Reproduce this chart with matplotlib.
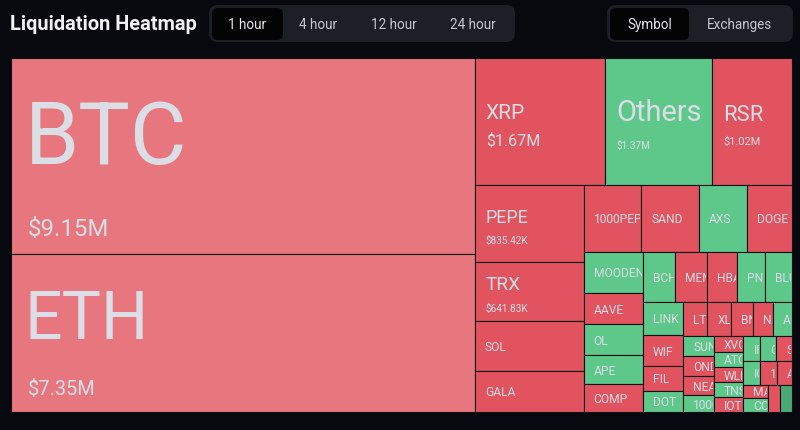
import matplotlib.pyplot as plt
from matplotlib.patches import Rectangle, FancyBboxPatch
from matplotlib.transforms import Bbox, TransformedBbox

plt.rcParams['font.family'] = ['Roboto', 'DejaVu Sans']

# liquidation totals per symbol, in $M
names = ["BTC", "ETH", "XRP", "Others", "RSR", "PEPE", "TRX", "SOL", "GALA",
         "1000PEPE", "SAND", "AXS", "DOGE",
         "MOODENG", "AAVE", "OL", "APE", "COMP",
         "BCH", "MEME", "HBAR", "PNUT", "BLUR",
         "LINK", "WIF", "FIL", "DOT",
         "LTC", "XLM", "BNB", "NEIRO", "ADA",
         "SUN", "ONDO", "NEAR", "1000BONK",
         "XVG", "ATOM", "WLD", "TNSR", "IOTA",
         "IP", "CRV", "SUI", "ICP", "1000SATS", "ARB",
         "MANA", "COW", "TIA", "ENA"]
values = [9.15, 7.35, 1.67, 1.37, 1.02, 0.83542, 0.64183, 0.549, 0.45,
          0.385, 0.383, 0.319, 0.299,
          0.249, 0.185, 0.184, 0.172, 0.166,
          0.162, 0.161, 0.151, 0.141, 0.136,
          0.135, 0.128, 0.099, 0.087,
          0.082, 0.081, 0.075, 0.067, 0.066,
          0.063, 0.060, 0.057, 0.051,
          0.048, 0.047, 0.046, 0.045, 0.044,
          0.043, 0.042, 0.040, 0.039, 0.038, 0.036,
          0.035, 0.034, 0.033, 0.032]
# r = mostly shorts, g = mostly longs, p = majors
tone = ["p", "p", "r", "g", "r", "r", "r", "r", "r",
        "r", "r", "g", "r",
        "g", "r", "g", "g", "r",
        "g", "r", "r", "g", "g",
        "g", "r", "r", "g",
        "r", "r", "r", "r", "g",
        "g", "r", "r", "g",
        "r", "g", "r", "g", "r",
        "g", "g", "r", "g", "r", "r",
        "r", "g", "r", "d"]

periods = ["1 hour", "4 hour", "12 hour", "24 hour"]
views = ["Symbol", "Exchanges"]

colors = {"p": "#e8767e", "r": "#e1535f", "g": "#5dc88a", "d": "#4aa874"}
# big label font sizes in px (name, value)
big_font = {"BTC": (87, 24), "ETH": (66, 20), "XRP": (21, 16), "Others": (29, 10),
            "RSR": (22, 11), "PEPE": (18, 10), "TRX": (19, 10)}

BG = "#08090e"
TXT = "#dcdee6"


def fmt(v):
    if v >= 1:
        return f"${v:.2f}M"
    return f"${v * 1000:.2f}K"


def worst(row_areas, fixed, ratio):
    s = sum(row_areas)
    f = fixed * fixed * ratio
    return max(f * max(row_areas) / (s * s), (s * s) / (f * min(row_areas)))


def treemap(vals, x, y, w, h, ratio=(1 + 5 ** 0.5) / 2):
    tot = sum(vals)
    areas = [v / tot * w * h for v in vals]
    rect = [x, y, w, h]
    boxes = [None] * len(vals)

    def position(row, fixed, flush):
        ra = sum(areas[k] for k in row)
        horiz = fixed == rect[2]
        other = ra / fixed
        if horiz:
            if flush or other > rect[3]:
                other = rect[3]
            last = rect[0]
            for j, k in enumerate(row):
                step = areas[k] / other
                remain = rect[0] + rect[2] - last
                mod = remain if (j == len(row) - 1 or remain < step) else step
                boxes[k] = (last, rect[1], mod, other)
                last += mod
            rect[1] += other
            rect[3] -= other
        else:
            if flush or other > rect[2]:
                other = rect[2]
            last = rect[1]
            for j, k in enumerate(row):
                step = areas[k] / other
                remain = rect[1] + rect[3] - last
                mod = remain if (j == len(row) - 1 or remain < step) else step
                boxes[k] = (rect[0], last, other, mod)
                last += mod
            rect[0] += other
            rect[2] -= other

    row = []
    best = float("inf")
    fixed = min(rect[2], rect[3])
    i = 0
    while i < len(vals):
        row.append(i)
        score = worst([areas[k] for k in row], fixed, ratio)
        if score <= best:
            best = score
            i += 1
        else:
            row.pop()
            position(row, fixed, False)
            fixed = min(rect[2], rect[3])
            row = []
            best = float("inf")
    if row:
        position(row, fixed, True)
    return boxes


fig = plt.figure(figsize=(8, 4.31), dpi=100, facecolor=BG)
ax = fig.add_axes([0, 0, 1, 1])
ax.set_xlim(0, 800)
ax.set_ylim(431, 0)
ax.axis("off")
ax.set_facecolor(BG)

px = 0.72  # px -> pt at 100 dpi
cap = 0.711

# header
ax.text(10, 24, "Liquidation Heatmap", fontsize=20 * px, fontweight="bold",
        color="#f2f2f4", va="center", ha="left")
ax.add_patch(FancyBboxPatch((209, 6), 306, 37, boxstyle="round,pad=0,rounding_size=9",
                            fc="#1c1f25", ec="none"))
ax.add_patch(FancyBboxPatch((212, 9), 71, 32, boxstyle="round,pad=0,rounding_size=6",
                            fc="#040405", ec="none"))
for p, cx in zip(periods, [247, 318, 394, 473]):
    ax.text(cx, 25, p, fontsize=13.5 * px, color="#e6e7ea" if p == "1 hour" else "#c4c8d0",
            ha="center", va="center")
ax.add_patch(FancyBboxPatch((607, 6), 186, 37, boxstyle="round,pad=0,rounding_size=9",
                            fc="#1c1f25", ec="none"))
ax.add_patch(FancyBboxPatch((610, 9), 79, 32, boxstyle="round,pad=0,rounding_size=6",
                            fc="#040405", ec="none"))
for v, cx in zip(views, [650, 739]):
    ax.text(cx, 25, v, fontsize=13.5 * px, color="#e6e7ea" if v == "Symbol" else "#c4c8d0",
            ha="center", va="center")

boxes = treemap(values, 11, 59, 781, 354)

for name, val, t, (x, y, w, h) in zip(names, values, tone, boxes):
    r = Rectangle((x, y), w, h, fc=colors[t], ec="#101116", lw=1.1 * px)
    ax.add_patch(r)
    if w < 14:
        continue
    clip = TransformedBbox(Bbox.from_bounds(x, y, w - 1, h), ax.transData)
    labels = []
    if name in big_font:
        fn, fv = big_font[name]
        pad = 14 if fn > 50 else 11
        gap = 0.6 * fn + 3
        block = cap * fn + gap + cap * fv
        top = y + h / 2 + (0.06 * h if fn > 50 else 2) - block / 2
        labels.append(ax.text(x + pad, top + cap * fn, name, fontsize=fn * px, color=TXT,
                              ha="left", va="baseline"))
        labels.append(ax.text(x + pad + (3 if fn > 50 else 0), top + cap * fn + gap + cap * fv,
                              fmt(val), fontsize=fv * px, color=TXT, ha="left", va="baseline"))
    else:
        labels.append(ax.text(x + 10, y + h / 2 + 0.5, name, fontsize=12 * px, color=TXT,
                              ha="left", va="center"))
    for lb in labels:
        lb.set_clip_box(clip)
        lb.set_clip_on(True)

fig.savefig("out.png", dpi=100, facecolor=BG)
